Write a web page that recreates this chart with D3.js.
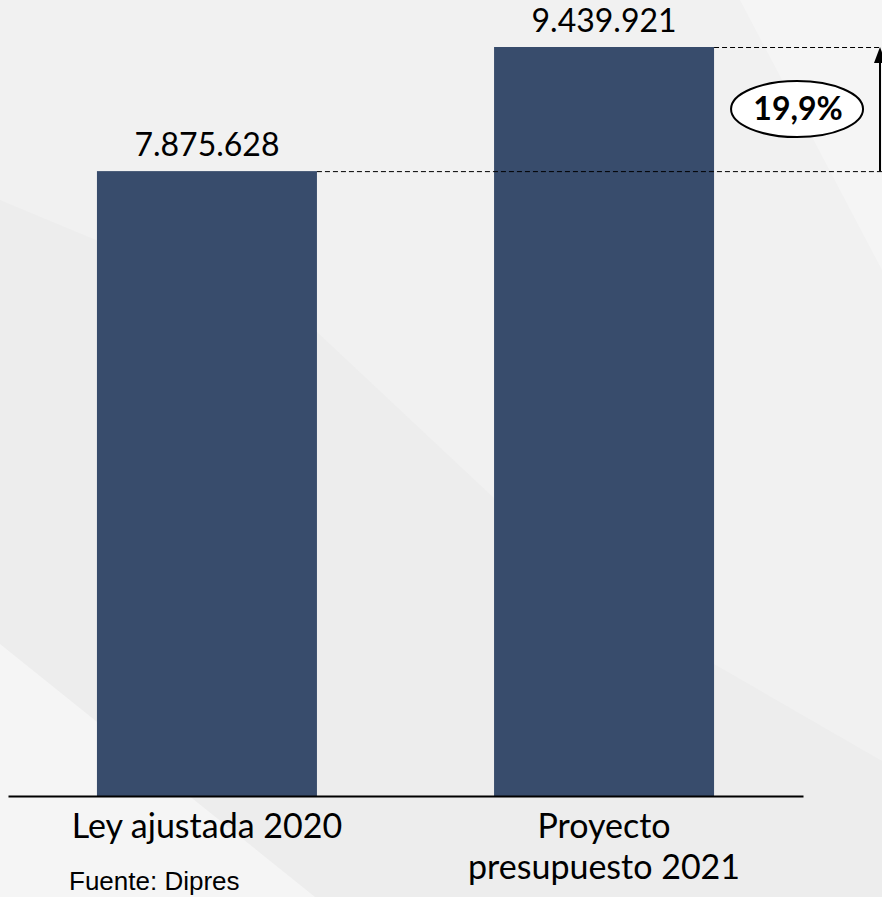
<!DOCTYPE html>
<html>
<head>
<meta charset="utf-8">
<script src="https://cdn.jsdelivr.net/npm/d3@7"></script>
<style>
  html, body { margin: 0; padding: 0; background: #ededed; }
  #container { width: 882px; height: 897px; overflow: hidden; }
</style>
</head>
<body>
<div id="container"></div>
<script>
const categories = ["Ley ajustada 2020", "Proyecto presupuesto 2021"];
const categoryLines = [["Ley ajustada 2020"], ["Proyecto", "presupuesto 2021"]];
const values = [7875628, 9439921];
const sourceNote = "Fuente: Dipres";

const width = 882;
const height = 897;
const baseY = 796;
const barColor = "#384c6c";

const fmt = d3.formatLocale({decimal: ",", thousands: ".", grouping: [3], currency: ["$", ""]});
const fmtInt = fmt.format(",d");
const fmtPct = fmt.format(",.1f");

const svg = d3.select("#container").append("svg")
    .attr("width", width)
    .attr("height", height);

// background shading
const bg = svg.append("g");
bg.append("rect").attr("width", width).attr("height", height).attr("fill", "#ededed");
bg.append("polygon")
    .attr("points", "0,0 882,0 882,761 714,664 494,498 317,332 0,200")
    .attr("fill", "#f1f1f1");
bg.append("polygon")
    .attr("points", "740,0 882,0 882,270")
    .attr("fill", "#f5f5f5");
bg.append("polygon")
    .attr("points", "0,644 315,897 0,897")
    .attr("fill", "#f5f5f5");

const x = d3.scaleBand()
    .domain(categories)
    .range([8, 803])
    .paddingInner(0.446)
    .paddingOuter(0.224);

const y = d3.scaleLinear()
    .domain([0, d3.max(values)])
    .range([baseY, 47]);

const data = categories.map((c, i) => ({cat: c, value: values[i], lines: categoryLines[i]}));

svg.append("g")
    .selectAll("rect")
    .data(data)
    .enter()
    .append("rect")
    .attr("x", d => x(d.cat))
    .attr("y", d => y(d.value))
    .attr("width", x.bandwidth())
    .attr("height", d => y(0) - y(d.value))
    .attr("fill", barColor);

svg.append("g")
    .selectAll("text")
    .data(data)
    .enter()
    .append("text")
    .attr("x", d => x(d.cat) + x.bandwidth() / 2)
    .attr("y", d => y(d.value) - 15)
    .attr("text-anchor", "middle")
    .attr("font-family", "Lato")
    .attr("font-size", "32px")
    .attr("fill", "#000")
    .text(d => fmtInt(d.value));

// axis
const xAxis = svg.append("g")
    .attr("transform", `translate(0, ${baseY})`)
    .call(d3.axisBottom(x).tickSize(0).tickSizeOuter(0));

xAxis.select(".domain")
    .attr("stroke", "#000")
    .attr("stroke-width", 2);

xAxis.selectAll(".tick text")
    .attr("font-family", "Lato")
    .attr("font-size", "34px")
    .attr("fill", "#000")
    .attr("dy", null)
    .attr("y", null)
    .text("")
    .each(function(d, i) {
        const t = d3.select(this);
        categoryLines[i].forEach((line, j) => {
            t.append("tspan")
                .attr("x", 0)
                .attr("y", 42 + j * 41)
                .text(line);
        });
    });

// dashed reference lines and growth arrow
const arrowX = 880;
svg.append("g")
    .selectAll("line")
    .data(data)
    .enter()
    .append("line")
    .attr("x1", d => x(d.cat) + x.bandwidth())
    .attr("x2", width)
    .attr("y1", d => y(d.value) + 0.5)
    .attr("y2", d => y(d.value) + 0.5)
    .attr("stroke", "#000")
    .attr("stroke-width", 1)
    .attr("stroke-dasharray", "5,3");

const yLow = y(values[0]);
const yHigh = y(values[1]);

svg.append("line")
    .attr("x1", arrowX)
    .attr("x2", arrowX)
    .attr("y1", yLow)
    .attr("y2", yHigh + 14)
    .attr("stroke", "#000")
    .attr("stroke-width", 2);

svg.append("path")
    .attr("d", `M${arrowX},${yHigh} L${arrowX + 6},${yHigh + 16} L${arrowX - 6},${yHigh + 16} Z`)
    .attr("fill", "#000");

const pct = (values[1] / values[0] - 1) * 100;
const cx = x(categories[1]) + x.bandwidth() + 83;
const cy = (yLow + yHigh) / 2;

svg.append("ellipse")
    .attr("cx", cx)
    .attr("cy", cy)
    .attr("rx", 66)
    .attr("ry", 28)
    .attr("fill", "#fff")
    .attr("stroke", "#000")
    .attr("stroke-width", 2);

svg.append("text")
    .attr("x", cx + 1)
    .attr("y", cy + 11)
    .attr("text-anchor", "middle")
    .attr("font-family", "Lato")
    .attr("font-weight", "bold")
    .attr("font-size", "32px")
    .attr("fill", "#000")
    .text(fmtPct(pct) + "%");

svg.append("text")
    .attr("x", 69)
    .attr("y", 890)
    .attr("font-family", "Liberation Sans")
    .attr("font-size", "26px")
    .attr("fill", "#000")
    .text(sourceNote);
</script>
</body>
</html>
